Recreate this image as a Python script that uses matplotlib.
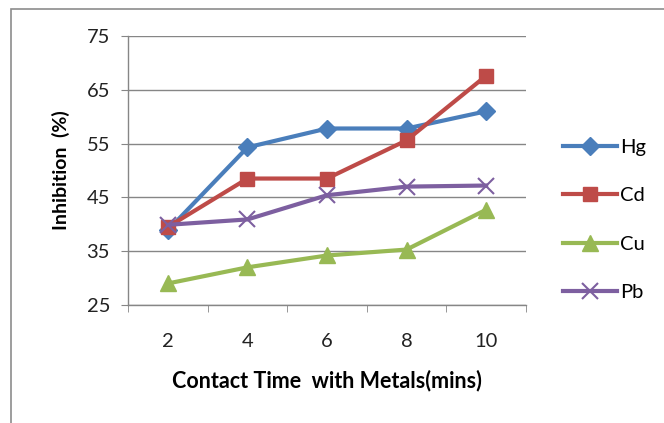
import matplotlib.pyplot as plt
from matplotlib.patches import Rectangle
import numpy as np

# contact time (mins) and % inhibition per metal
tempos = ['2', '4', '6', '8', '10']
hg = [38.9, 54.3, 57.8, 57.8, 61.0]
cd = [39.5, 48.5, 48.5, 55.6, 67.6]
cu = [29.0, 32.0, 34.2, 35.3, 42.7]
pb = [39.9, 40.9, 45.4, 47.0, 47.2]

series = [
    ('Hg', hg, '#4A7EBB', 'D', 9),
    ('Cd', cd, '#BE4B48', 's', 10),
    ('Cu', cu, '#98B954', '^', 11),
    ('Pb', pb, '#7D5FA0', 'x', 11),
]

plt.rcParams['font.family'] = ['Lato', 'DejaVu Sans']

fig = plt.figure(figsize=(6.64, 4.23), dpi=100)
ax = fig.add_axes([0.193, 0.279, 0.599, 0.636])

# chart area border (left and top edges visible)
fig.patches.append(Rectangle((11 / 664, -0.1), 1.2, 1.1 - 9 / 423,
                             transform=fig.transFigure, fill=False,
                             edgecolor='#8c8c8c', linewidth=1.2, zorder=0))

x = np.arange(len(tempos))
lines = []
for nome, vals, cor, mk, ms in series:
    ln, = ax.plot(x, vals, color=cor, marker=mk, markersize=ms, linewidth=3,
                  markeredgewidth=1.5 if mk == 'x' else 1, markeredgecolor=cor,
                  label=nome, zorder=3)
    lines.append(ln)

ax.set_xlim(-0.5, len(tempos) - 0.5)
ax.set_ylim(25, 75)
ax.set_yticks([25, 35, 45, 55, 65, 75])
ax.set_xticks(x)
ax.set_xticklabels(tempos)
ax.set_xticks(np.arange(-0.5, len(tempos), 1), minor=True)
ax.tick_params(axis='x', which='major', length=0, pad=20, labelsize=14.5)
ax.tick_params(axis='x', which='minor', length=5, color='#868686', direction='out')
ax.tick_params(axis='y', length=5, color='#868686', direction='out', pad=8, labelsize=14.5)
for lab in ax.get_xticklabels() + ax.get_yticklabels():
    lab.set_color('#222222')

ax.grid(True, axis='y', color='#868686', linewidth=1)
ax.set_axisbelow(True)
for s in ['top', 'right']:
    ax.spines[s].set_visible(False)
for s in ['left', 'bottom']:
    ax.spines[s].set_color('#868686')
    ax.spines[s].set_linewidth(1)

ax.set_xlabel('Contact Time  with Metals(mins)', fontweight='bold', fontsize=15.5, labelpad=14)
ax.set_ylabel('Inhibition  (%)', fontweight='bold', fontsize=14, labelpad=12)

fig.legend(handles=lines, loc='center left', bbox_to_anchor=(0.848, 0.48),
           frameon=False, fontsize=14.5, handlelength=2.7, handletextpad=0.15,
           labelspacing=1.55, borderpad=0, borderaxespad=0)

plt.savefig('out.png', dpi=100, facecolor='white')
